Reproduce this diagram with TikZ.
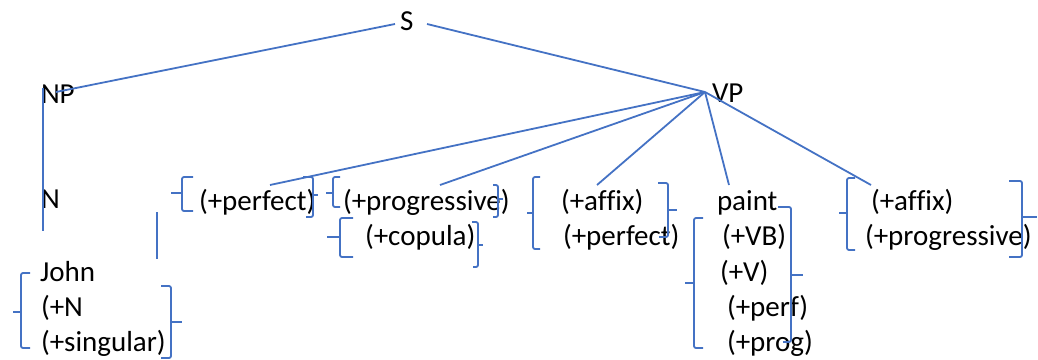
\documentclass[tikz,border=0pt]{standalone}
\usepackage{fontspec}
\setmainfont[Ligatures=NoCommon]{Carlito}
\definecolor{treeblue}{RGB}{68,114,196}
\begin{document}
\begin{tikzpicture}[x=1pt,y=-1pt,
  lbl/.style={anchor=base west,inner sep=0pt,outer sep=0pt,text=black,
              font=\fontsize{29}{34}\selectfont},
  branch/.style={draw=treeblue,line width=1.8pt},
  brk/.style={draw=treeblue,line width=1.8pt,rounded corners=2pt}]
\useasboundingbox (0,0) rectangle (1038,359);

% category labels
\node[lbl] (S)  at (400,30)  {S};
\node[lbl] (NP) at (41,103)  {NP};
\node[lbl] (VP) at (712,102) {VP};
\node[lbl] (N)  at (41,208)  {N};

% John and its features
\node[lbl] (john)  at (40,281) {John};
\node[lbl] (plusN) at (41,316) {(+N};
\node[lbl] (sing)  at (41,351) {(+singular)};

% auxiliary features
\node[lbl] (perf1)  at (199,210) {(+perfect)};
\node[lbl] (prog1)  at (343,210) {(+progressive)};
\node[lbl] (cop)    at (365,245) {(+copula)};
\node[lbl] (affix1) at (561,210) {(+affix)};
\node[lbl] (perf2)  at (563,245) {(+perfect)};

% main verb
\node[lbl] (paint) at (717,210) {paint};
\node[lbl] (vb)    at (722,245) {(+VB)};
\node[lbl] (v)     at (720,281) {(+V)};
\node[lbl] (perf3) at (727,316) {(+perf)};
\node[lbl] (prog3) at (727,351) {(+prog)};

% final affix
\node[lbl] (affix2) at (871,210) {(+affix)};
\node[lbl] (prog2)  at (865,245) {(+progressive)};

% branch end points
\coordinate (s-l)  at (395,24);
\coordinate (s-r)  at (427,24);
\coordinate (np-t) at (56,92);
\coordinate (np-v) at (43,88);
\coordinate (n-b)  at (43,231);
\coordinate (vp-j) at (705,92);
\coordinate (x-t)  at (157,212);
\coordinate (x-b)  at (157,259);
\coordinate (perf1-t)  at (270,185);
\coordinate (prog1-t)  at (440,185);
\coordinate (affix1-t) at (597,185);
\coordinate (paint-t)  at (729,185);
\coordinate (affix2-t) at (871,185);

% branches
\draw[branch] (s-l) -- (np-t);
\draw[branch] (s-r) -- (vp-j);
\draw[branch] (np-v) -- (n-b);
\draw[branch] (x-t) -- (x-b);
\draw[branch] (vp-j) -- (perf1-t);
\draw[branch] (vp-j) -- (prog1-t);
\draw[branch] (vp-j) -- (affix1-t);
\draw[branch] (vp-j) -- (paint-t);
\draw[branch] (vp-j) -- (affix2-t);

% left brackets
\draw[brk] (30,273) -- (21,273) -- (21,348) -- (30,348);
\draw[brk] (21,312) -- (13,312);
\draw[brk] (193,177) -- (182,177) -- (182,211) -- (193,211);
\draw[brk] (182,193) -- (171,193);
\draw[brk] (340,177) -- (333,177) -- (333,207) -- (340,207);
\draw[brk] (333,193) -- (326,193);
\draw[brk] (353,218) -- (340,218) -- (340,257) -- (353,257);
\draw[brk] (340,237) -- (327,237);
\draw[brk] (540,177) -- (533,177) -- (533,249) -- (540,249);
\draw[brk] (533,213) -- (527,213);
\draw[brk] (703,218) -- (694,218) -- (694,348) -- (703,348);
\draw[brk] (694,283) -- (685,283);
\draw[brk] (855,178) -- (847,178) -- (847,250) -- (855,250);
\draw[brk] (847,213) -- (839,213);

% right brackets
\draw[brk] (161,286) -- (171,286) -- (171,358) -- (161,358);
\draw[brk] (171,322) -- (182,322);
\draw[brk] (303,177) -- (313,177) -- (313,217) -- (306,217);
\draw[brk] (313,195) -- (318,195);
\draw[brk] (493,185) -- (498,185) -- (498,217) -- (493,217);
\draw[brk] (498,199) -- (503,199);
\draw[brk] (472,222) -- (478,222) -- (478,267) -- (473,267);
\draw[brk] (478,245) -- (483,245);
\draw[brk] (658,183) -- (668,183) -- (668,237) -- (659,237);
\draw[brk] (668,210) -- (677,210);
\draw[brk] (778,207) -- (791,207) -- (791,342) -- (783,342);
\draw[brk] (791,275) -- (803,275);
\draw[brk] (1009,181) -- (1022,181) -- (1022,257) -- (1009,257);
\draw[brk] (1022,217) -- (1037,217);
\end{tikzpicture}
\end{document}
